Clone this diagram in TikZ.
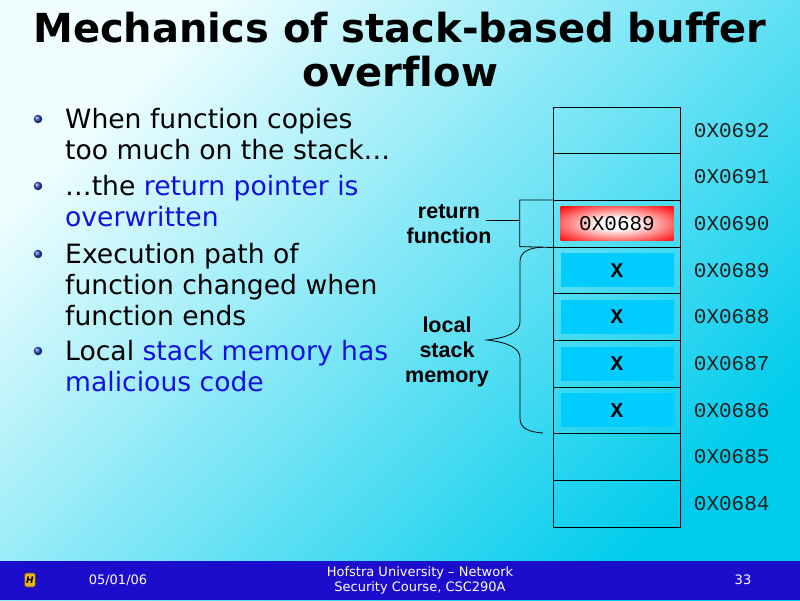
\documentclass[tikz,border=0pt]{standalone}
\usepackage{fontspec}
\setmainfont{DejaVu Sans}[Ligatures=NoCommon]
\newfontfamily\labelfont{Liberation Sans}
\newfontfamily\addrfont{Liberation Mono}
\usepackage{tikz}
\usetikzlibrary{positioning}

\definecolor{bgtop}{RGB}{240,254,255}
\definecolor{bgbottom}{RGB}{0,204,236}
\definecolor{slotcyan}{RGB}{0,204,255}
\definecolor{slotred}{RGB}{255,0,0}
\definecolor{hiblue}{RGB}{17,17,221}
\definecolor{footerblue}{RGB}{28,12,204}
\definecolor{dotblue}{RGB}{40,70,190}
\definecolor{crestgold}{RGB}{230,180,40}
\definecolor{crestdark}{RGB}{90,70,20}
\definecolor{addrgray}{RGB}{30,30,30}

\pgfdeclareradialshading{retglow}{\pgfpoint{0bp}{0bp}}{color(0bp)=(white); color(8bp)=(white); color(36bp)=(slotred); color(50bp)=(slotred)}

\begin{document}
\begin{tikzpicture}[x=1pt, y=-1pt,
			cell/.style={rectangle, draw=black, line width=0.9pt, minimum width=127.5pt, minimum height=46.67pt, inner sep=0pt},
			slot/.style={rectangle, minimum width=113pt, minimum height=34pt, inner sep=0pt, text=black, font=\addrfont\fontsize{21}{21}\selectfont},
			xslot/.style={slot, fill=slotcyan, font=\addrfont\bfseries\fontsize{21}{21}\selectfont},
			addr/.style={inner sep=0pt, text=addrgray, font=\addrfont\fontsize{21}{21}\selectfont},
			sidelabel/.style={align=center, inner sep=0pt, font=\labelfont\bfseries\fontsize{21.5}{25}\selectfont},
			titletext/.style={anchor=base, inner sep=0pt, font=\bfseries\fontsize{40}{44}\selectfont},
			bulletdot/.style={circle, inner sep=0pt, minimum size=8.5pt, shade, ball color=dotblue},
			bullettext/.style={anchor=north west, align=left, inner sep=0pt, font=\fontsize{26.6}{31}\selectfont},
			foottext/.style={inner sep=0pt, text=white, font=\fontsize{13}{15}\selectfont},
			crest/.style={rectangle, rounded corners=2.5pt, fill=crestgold, draw=crestdark, line width=0.6pt, minimum width=11pt, minimum height=14pt, inner sep=0pt, font=\bfseries\itshape\fontsize{9}{9}\selectfont}
			]
			
			\useasboundingbox (0,0) rectangle (800,600);
			\shade[top color=bgtop, bottom color=bgbottom, shading angle=45] (0,0) rectangle (800,600);
			
			% title
			\node[titletext] at (400,42) (title1) {Mechanics of stack-based buffer};
			\node[titletext] at (400,86) (title2) {overflow};
			
			% bullets
			\node[bulletdot] at (38,119) (d1) {};
			\node[bulletdot] at (38,186) (d2) {};
			\node[bulletdot] at (38,254) (d3) {};
			\node[bulletdot] at (38,351) (d4) {};
			\node[bullettext] at (65,107.8) (t1) {When function copies\\too much on the stack…};
			\node[bullettext] at (65,174.8) (t2) {…the \textcolor{hiblue}{return pointer is}\\\textcolor{hiblue}{overwritten}};
			\node[bullettext] at (65,242.8) (t3) {Execution path of\\function changed when\\function ends};
			\node[bullettext] at (65,339.8) (t4) {Local \textcolor{hiblue}{stack memory has}\\\textcolor{hiblue}{malicious code}};
			
			% stack cells
			\node[cell] at (617,130.3) (c692) {};
			\node[cell] at (617,177.0) (c691) {};
			\node[cell] at (617,223.7) (c690) {};
			\node[cell] at (617,270.3) (c689) {};
			\node[cell] at (617,317.0) (c688) {};
			\node[cell] at (617,363.7) (c687) {};
			\node[cell] at (617,410.3) (c686) {};
			\node[cell] at (617,457.0) (c685) {};
			\node[cell] at (617,503.7) (c684) {};
			
			\node[slot, shading=retglow] at (c690) (ret) {0X0689};
			\node[xslot] at (c689) (x689) {X};
			\node[xslot] at (c688) (x688) {X};
			\node[xslot] at (c687) (x687) {X};
			\node[xslot] at (c686) (x686) {X};
			
			% addresses
			\node[addr, right=12.5pt of c692] (a692) {0X0692};
			\node[addr, right=12.5pt of c691] (a691) {0X0691};
			\node[addr, right=12.5pt of c690] (a690) {0X0690};
			\node[addr, right=12.5pt of c689] (a689) {0X0689};
			\node[addr, right=12.5pt of c688] (a688) {0X0688};
			\node[addr, right=12.5pt of c687] (a687) {0X0687};
			\node[addr, right=12.5pt of c686] (a686) {0X0686};
			\node[addr, right=12.5pt of c685] (a685) {0X0685};
			\node[addr, right=12.5pt of c684] (a684) {0X0684};
			
			% side labels
			\node[sidelabel] at (449,224) (retlbl) {return\\function};
			\node[sidelabel] at (447,352) (locallbl) {local\\stack\\memory};
			
			\coordinate (retbr) at (520,220);
			\draw[line width=0.8pt] (c690.north west) -- ++(-33,0) -- ++(0,46.67) -- (c690.south west);
			\draw[line width=0.8pt] ([xshift=-6pt]retlbl.east |- retbr) -- (retbr);
			
			\coordinate (lstop) at (543,247);
			\coordinate (lstip) at (487,340);
			\coordinate (lsbot) at (543,433);
			\draw[line width=0.8pt] (lstop) .. controls (528,248) and (520,252) .. (520,262) -- (520,322)
				.. controls (520,333) and (505,338) .. (lstip)
				.. controls (505,342) and (520,347) .. (520,358) -- (520,418)
				.. controls (520,428) and (528,432) .. (lsbot);
			
			% footer
			\fill[footerblue] (0,561) rectangle (800,600);
			\node[crest] at (30,580) (logo) {H};
			\node[foottext] at (118,580) (date) {05/01/06};
			\node[foottext, align=center] at (420,580) (course) {Hofstra University – Network\\Security Course, CSC290A};
			\node[foottext] at (743,580) (page) {33};
		\end{tikzpicture}
\end{document}
